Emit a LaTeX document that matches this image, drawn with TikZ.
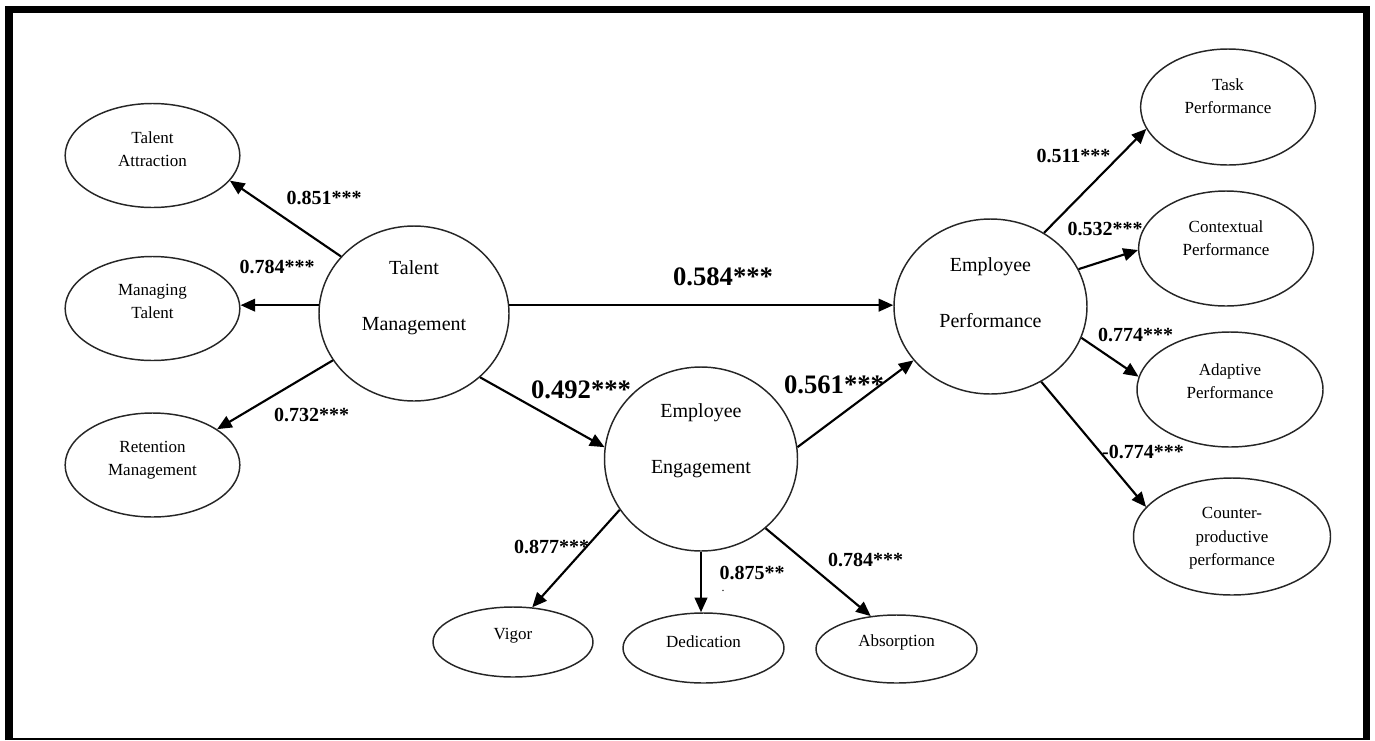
\documentclass[tikz,border=0pt]{standalone}
\usepackage{fontspec}
\setmainfont{Liberation Serif}
\usepackage{tikz}
\usetikzlibrary{arrows.meta,positioning,shapes.geometric}

\begin{document}
\begin{tikzpicture}[
      x=0.75pt, y=-0.75pt,
      >={Triangle[length=11pt,width=9.5pt]},
      latent/.style={ellipse, draw=black!85, line width=1.1pt, inner sep=0pt},
      dim/.style={latent, minimum width=131pt, minimum height=78pt},
      dimtxt/.style={align=center, inner sep=0pt, font=\fontsize{12.75}{17.5}\selectfont},
      bigtxt/.style={align=center, inner sep=0pt, font=\fontsize{15}{42}\selectfont},
      coef/.style={inner sep=0pt, font=\fontsize{15}{18}\selectfont\bfseries},
      bigcoef/.style={inner sep=0pt, font=\fontsize{20}{24}\selectfont\bfseries},
      link/.style={->, line width=1.6pt},
  ]
  \useasboundingbox (0,0) rectangle (1375,740);

  % Moldura
  \draw[line width=5.5pt] (9,740) -- (9,9.5) -- (1366.5,9.5) -- (1366.5,740);
  \draw[line width=1.5pt] (9,738.5) -- (1366.5,738.5);

  % Construtos principais
  \node[latent, minimum width=142.5pt, minimum height=131.25pt,
        label={[bigtxt, shift={(0,-15.5)}]center:Talent\\Management}] (tm) at (414,313.5) {};
  \node[latent, minimum width=144.75pt, minimum height=138pt,
        label={[bigtxt, shift={(0,-18)}]center:Employee\\Engagement}] (ee) at (701,459) {};
  \node[latent, minimum width=144.75pt, minimum height=131.25pt,
        label={[bigtxt, shift={(0,-14)}]center:Employee\\Performance}] (ep) at (990.5,306.5) {};

  % Dimensoes - Talent Management
  \node[dim, label={[dimtxt, shift={(0,-6)}]center:Talent\\Attraction}] (ta) at (152.5,155.5) {};
  \node[dim, label={[dimtxt, shift={(0,-7)}]center:Managing\\Talent}] (mt) at (152.5,308.5) {};
  \node[dim, label={[dimtxt, shift={(0,-5)}]center:Retention\\Management}] (rm) at (152.5,465) {};

  % Dimensoes - Employee Engagement
  \node[latent, minimum width=120pt, minimum height=52.5pt,
        label={[dimtxt, shift={(0,-6)}]center:Vigor}] (vig) at (513,642) {};
  \node[latent, minimum width=120.75pt, minimum height=52.5pt,
        label={[dimtxt, shift={(0,-6)}]center:Dedication}] (ded) at (703.5,648) {};
  \node[latent, minimum width=120.75pt, minimum height=51pt,
        label={[dimtxt, shift={(0,-7)}]center:Absorption}] (abs) at (896.5,649) {};

  % Dimensoes - Employee Performance
  \node[dim, minimum height=87pt,
        label={[dimtxt, shift={(0,-10.5)}]center:Task\\Performance}] (task) at (1228,107) {};
  \node[dim, minimum height=86.25pt,
        label={[dimtxt, shift={(0,-10)}]center:Contextual\\Performance}] (ctx) at (1226,248.5) {};
  \node[dim, minimum width=139.5pt, minimum height=86.25pt,
        label={[dimtxt, shift={(0,-8.5)}]center:Adaptive\\Performance}] (adp) at (1230,389.5) {};
  \node[dim, minimum width=147.75pt, minimum height=87.75pt,
        label={[dimtxt, shift={(0,2)}]center:Counter-\\productive\\performance}] (cwb) at (1232,536.5) {};

  % Setas
  \draw[link] (tm.142.6) -- (ta.342.5);
  \draw[link] (tm.175) -- (tm.175 -| mt.east);
  \draw[link] (tm.210) -- (rm.29);
  \draw[link] (tm.5) -- (tm.5 -| ep.west);
  \draw[link] (tm.316.5) -- (ee.173);
  \draw[link] (ee.7) -- (ep.215);
  \draw[link] (ee.212.7) -- (vig.61.5);
  \draw[link] (ee.south) -- (ee.south |- ded.north);
  \draw[link] (ee.313.7) -- (abs.128);
  \draw[link] (ep.54.8) -- (task.195.5);
  \draw[link] (ep.23.7) -- (ctx.181);
  \draw[link] (ep.341.8) -- (adp.172);
  \draw[link] (ep.304.5) -- (cwb.161.3);

  % Coeficientes
  \foreach \n/\x/\y/\t in {c851/324/198/0.851***, c784a/277/267/0.784***,
      c732/311.5/415/0.732***, c511/1073.5/156/0.511***, c532/1105/229/0.532***,
      c774a/1135.5/335/0.774***, c774b/1143/452/-0.774***, c877/551.5/547/0.877***,
      c875/752/573/0.875**, c784b/865.5/560/0.784***}
      \node[coef] (\n) at (\x,\y) {\t};
  \node[coef, font=\fontsize{9}{10}\selectfont] (c875dot) at (723,591) {.};

  \foreach \n/\x/\y/\t in {c584/723/277/0.584***, c492/581/390/0.492***,
      c561/834/385/0.561***}
      \node[bigcoef] (\n) at (\x,\y) {\t};

\end{tikzpicture}
\end{document}
